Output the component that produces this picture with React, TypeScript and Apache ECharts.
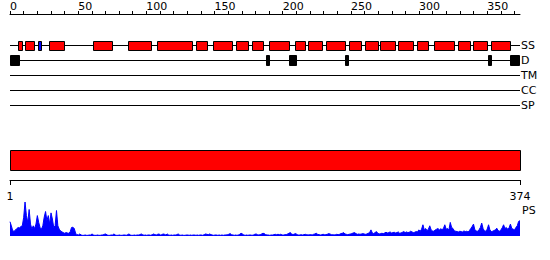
import React, { useEffect, useRef } from 'react';
import * as echarts from 'echarts';

const SEQ_LENGTH = 374;
const trackNames = ['SS', 'D', 'TM', 'CC', 'SP'];
const topTickValues = [0, 10, 20, 30, 40, 50, 60, 70, 80, 90, 100, 110, 120, 130, 140, 150, 160, 170, 180, 190, 200, 210, 220, 230, 240, 250, 260, 270, 280, 290, 300, 310, 320, 330, 340, 350, 360, 370];
const topLabelValues = [0, 50, 100, 150, 200, 250, 300, 350];
const bottomLabelValues = [1, 374];

// secondary structure elements (H = helix, red; E = strand, blue)
const ssStart = [6, 11, 21, 29, 61, 87, 108, 137, 149, 166, 178, 190, 209, 219, 232, 249, 261, 272, 285, 299, 311, 329, 340, 353];
const ssEnd = [9, 18, 23, 40, 75, 104, 134, 145, 163, 175, 186, 205, 217, 229, 246, 258, 270, 283, 296, 307, 326, 338, 350, 367];
const ssType = ['H', 'H', 'E', 'H', 'H', 'H', 'H', 'H', 'H', 'H', 'H', 'H', 'H', 'H', 'H', 'H', 'H', 'H', 'H', 'H', 'H', 'H', 'H', 'H'];

// disorder regions
const disStart = [0, 188, 205, 246, 351, 367];
const disEnd = [7, 190, 210, 248, 353, 374];

// domain bar
const domainStart = [1];
const domainEnd = [374];

// PS profile, one value per residue
const psValues = [
  0.42, 0.30, 0.15, 0.14, 0.18, 0.22, 0.25, 0.24, 0.28, 0.30,
  0.55, 1.00, 0.60, 0.40, 0.78, 0.35, 0.20, 0.30, 0.22, 0.35,
  0.60, 0.40, 0.25, 0.20, 0.30, 0.55, 0.72, 0.45, 0.60, 0.35,
  0.68, 0.50, 0.25, 0.30, 0.75, 0.30, 0.20, 0.15, 0.12, 0.10,
  0.08, 0.10, 0.09, 0.08, 0.12, 0.25, 0.26, 0.22, 0.08, 0.04,
  0.03, 0.06, 0.03, 0.02, 0.02, 0.03, 0.02, 0.02, 0.03, 0.03,
  0.06, 0.03, 0.02, 0.02, 0.03, 0.02, 0.02, 0.03, 0.03, 0.05,
  0.06, 0.03, 0.02, 0.02, 0.03, 0.03, 0.06, 0.03, 0.02, 0.02,
  0.03, 0.02, 0.02, 0.03, 0.03, 0.02, 0.04, 0.06, 0.03, 0.02,
  0.02, 0.03, 0.02, 0.03, 0.03, 0.04, 0.06, 0.04, 0.02, 0.03,
  0.02, 0.03, 0.03, 0.02, 0.04, 0.06, 0.04, 0.03, 0.05, 0.06,
  0.03, 0.04, 0.06, 0.05, 0.03, 0.06, 0.03, 0.02, 0.03, 0.02,
  0.03, 0.03, 0.04, 0.06, 0.03, 0.02, 0.03, 0.02, 0.02, 0.03,
  0.03, 0.02, 0.03, 0.02, 0.03, 0.03, 0.02, 0.03, 0.02, 0.03,
  0.03, 0.02, 0.04, 0.06, 0.05, 0.04, 0.06, 0.04, 0.03, 0.02,
  0.03, 0.03, 0.02, 0.03, 0.02, 0.03, 0.02, 0.03, 0.03, 0.04,
  0.05, 0.07, 0.04, 0.03, 0.02, 0.03, 0.02, 0.03, 0.05, 0.08,
  0.06, 0.03, 0.02, 0.03, 0.02, 0.03, 0.03, 0.02, 0.03, 0.05,
  0.06, 0.04, 0.03, 0.04, 0.06, 0.08, 0.07, 0.04, 0.03, 0.03,
  0.02, 0.03, 0.03, 0.04, 0.05, 0.04, 0.05, 0.04, 0.05, 0.03,
  0.03, 0.04, 0.04, 0.06, 0.08, 0.10, 0.06, 0.04, 0.06, 0.07,
  0.04, 0.03, 0.03, 0.04, 0.03, 0.04, 0.05, 0.04, 0.03, 0.04,
  0.04, 0.03, 0.05, 0.06, 0.08, 0.05, 0.04, 0.03, 0.04, 0.05,
  0.04, 0.04, 0.05, 0.07, 0.06, 0.04, 0.04, 0.03, 0.04, 0.05,
  0.04, 0.05, 0.07, 0.08, 0.10, 0.06, 0.05, 0.04, 0.05, 0.06,
  0.07, 0.09, 0.10, 0.07, 0.05, 0.06, 0.05, 0.06, 0.07, 0.06,
  0.05, 0.06, 0.08, 0.10, 0.18, 0.09, 0.07, 0.10, 0.13, 0.08,
  0.06, 0.07, 0.08, 0.07, 0.09, 0.11, 0.09, 0.10, 0.12, 0.09,
  0.10, 0.11, 0.09, 0.10, 0.12, 0.08, 0.09, 0.11, 0.13, 0.10,
  0.12, 0.10, 0.11, 0.14, 0.12, 0.10, 0.11, 0.13, 0.12, 0.18,
  0.14, 0.20, 0.33, 0.18, 0.22, 0.16, 0.20, 0.30, 0.18, 0.15,
  0.14, 0.18, 0.20, 0.22, 0.18, 0.21, 0.19, 0.22, 0.33, 0.20,
  0.22, 0.18, 0.40, 0.25, 0.22, 0.15, 0.14, 0.13, 0.12, 0.14,
  0.13, 0.12, 0.15, 0.13, 0.14, 0.12, 0.16, 0.22, 0.28, 0.35,
  0.18, 0.15, 0.14, 0.18, 0.25, 0.38, 0.22, 0.15, 0.14, 0.20,
  0.33, 0.18, 0.13, 0.14, 0.16, 0.18, 0.23, 0.16, 0.14, 0.18,
  0.24, 0.33, 0.22, 0.25, 0.20, 0.24, 0.35, 0.22, 0.20, 0.18,
  0.25, 0.30, 0.43, 0.45,
];

const FONT = 'DejaVu Sans';

export default function App() {
  const ref = useRef<HTMLDivElement>(null);

  useEffect(() => {
    if (!ref.current) return;
    const chart = echarts.init(ref.current, undefined, { renderer: 'svg' });
    const crisp = (v: number) => Math.floor(v) + 0.5;

    const ssIdx = trackNames.indexOf('SS');
    const dIdx = trackNames.indexOf('D');

    const option: any = {
      animation: false,
      grid: [
        { left: 10, width: 510, top: 38, height: 75, outerBoundsMode: 'none' },
        { left: 10, width: 510, top: 150, height: 30, outerBoundsMode: 'none' },
        { left: 10, width: 510, top: 202, height: 34, outerBoundsMode: 'none' },
      ],
      xAxis: [
        {
          gridIndex: 0, type: 'value', position: 'top', offset: 24,
          min: 0, max: SEQ_LENGTH,
          splitLine: { show: false },
          axisLine: { show: true, lineStyle: { color: '#000', width: 1 } },
          axisTick: { show: true, length: 3, customValues: topTickValues, lineStyle: { color: '#000' } },
          axisLabel: {
            customValues: topLabelValues, align: 'left', margin: 2,
            color: '#000', fontFamily: FONT, fontSize: 11,
          },
        },
        {
          gridIndex: 1, type: 'value', position: 'bottom',
          min: 1, max: SEQ_LENGTH,
          splitLine: { show: false },
          axisLine: { show: true, lineStyle: { color: '#000', width: 1 } },
          axisTick: { show: true, length: 5, customValues: bottomLabelValues, lineStyle: { color: '#000' } },
          axisLabel: {
            customValues: bottomLabelValues, margin: 11,
            color: '#000', fontFamily: FONT, fontSize: 11,
          },
        },
        {
          gridIndex: 2, type: 'value', min: 1, max: SEQ_LENGTH, show: false,
        },
      ],
      yAxis: [
        {
          gridIndex: 0, type: 'category', data: trackNames, inverse: true, position: 'right',
          axisLine: { show: false }, axisTick: { show: false }, splitLine: { show: false },
          axisLabel: { align: 'left', margin: 1, color: '#000', fontFamily: FONT, fontSize: 11 },
        },
        { gridIndex: 1, type: 'value', min: 0, max: 3, show: false },
        { gridIndex: 2, type: 'value', min: 0, max: 1, show: false },
      ],
      graphic: [
        {
          type: 'text', left: 522, top: 205,
          style: { text: 'PS', fill: '#000', font: `11px "${FONT}"` },
        },
      ],
      series: [
        {
          type: 'custom', xAxisIndex: 0, yAxisIndex: 0, z: 1,
          data: trackNames.map((_, i) => [0, SEQ_LENGTH, i]),
          renderItem: (params: any, api: any) => {
            const s = api.coord([api.value(0), api.value(2)]);
            const e = api.coord([api.value(1), api.value(2)]);
            return {
              type: 'line',
              shape: { x1: s[0], y1: crisp(s[1]), x2: e[0], y2: crisp(s[1]) },
              style: { stroke: '#000', lineWidth: 1 },
            };
          },
        },
        {
          type: 'custom', xAxisIndex: 0, yAxisIndex: 0, z: 3,
          data: ssStart.map((s, i) => [s, ssEnd[i], ssIdx, ssType[i] === 'E' ? 1 : 0]),
          renderItem: (params: any, api: any) => {
            const s = api.coord([api.value(0), api.value(2)]);
            const e = api.coord([api.value(1), api.value(2)]);
            const c = crisp(s[1]);
            const x1 = crisp(s[0]);
            const x2 = crisp(e[0]);
            return {
              type: 'rect',
              shape: { x: x1, y: c - 4, width: x2 - x1, height: 9 },
              style: { fill: api.value(3) === 1 ? '#0000ff' : '#ff0000', stroke: '#000', lineWidth: 1 },
            };
          },
        },
        {
          type: 'custom', xAxisIndex: 0, yAxisIndex: 0, z: 3,
          data: disStart.map((s, i) => [s, disEnd[i], dIdx]),
          renderItem: (params: any, api: any) => {
            const s = api.coord([api.value(0), api.value(2)]);
            const e = api.coord([api.value(1), api.value(2)]);
            const c = crisp(s[1]);
            const x1 = crisp(s[0]);
            const x2 = Math.min(crisp(e[0]), 519.5);
            return {
              type: 'rect',
              shape: { x: x1, y: c - 5, width: x2 - x1, height: 10 },
              style: { fill: '#000', stroke: '#000', lineWidth: 1 },
            };
          },
        },
        {
          type: 'custom', xAxisIndex: 1, yAxisIndex: 1, z: 3,
          data: domainStart.map((s, i) => [s, domainEnd[i]]),
          renderItem: (params: any, api: any) => {
            const a = api.coord([api.value(0), 3]);
            const b = api.coord([api.value(1), 1]);
            const x1 = crisp(a[0]);
            const x2 = crisp(b[0]);
            const y1 = crisp(a[1]);
            const y2 = crisp(b[1]);
            return {
              type: 'rect',
              shape: { x: x1, y: y1, width: x2 - x1, height: y2 - y1 },
              style: { fill: '#ff0000', stroke: '#000', lineWidth: 1 },
            };
          },
        },
        {
          type: 'line', xAxisIndex: 2, yAxisIndex: 2,
          data: psValues.map((v, i) => [i + 1, v]),
          symbol: 'none', smooth: false,
          lineStyle: { color: '#0000ff', width: 1 },
          areaStyle: { color: '#0000ff', opacity: 1 },
          itemStyle: { color: '#0000ff' },
        },
      ],
    };
    chart.setOption(option);
    return () => chart.dispose();
  }, []);

  return (
    <div
      ref={ref}
      style={{ position: 'fixed', left: 0, top: 0, width: 550, height: 260, background: '#fff' }}
    />
  );
}
